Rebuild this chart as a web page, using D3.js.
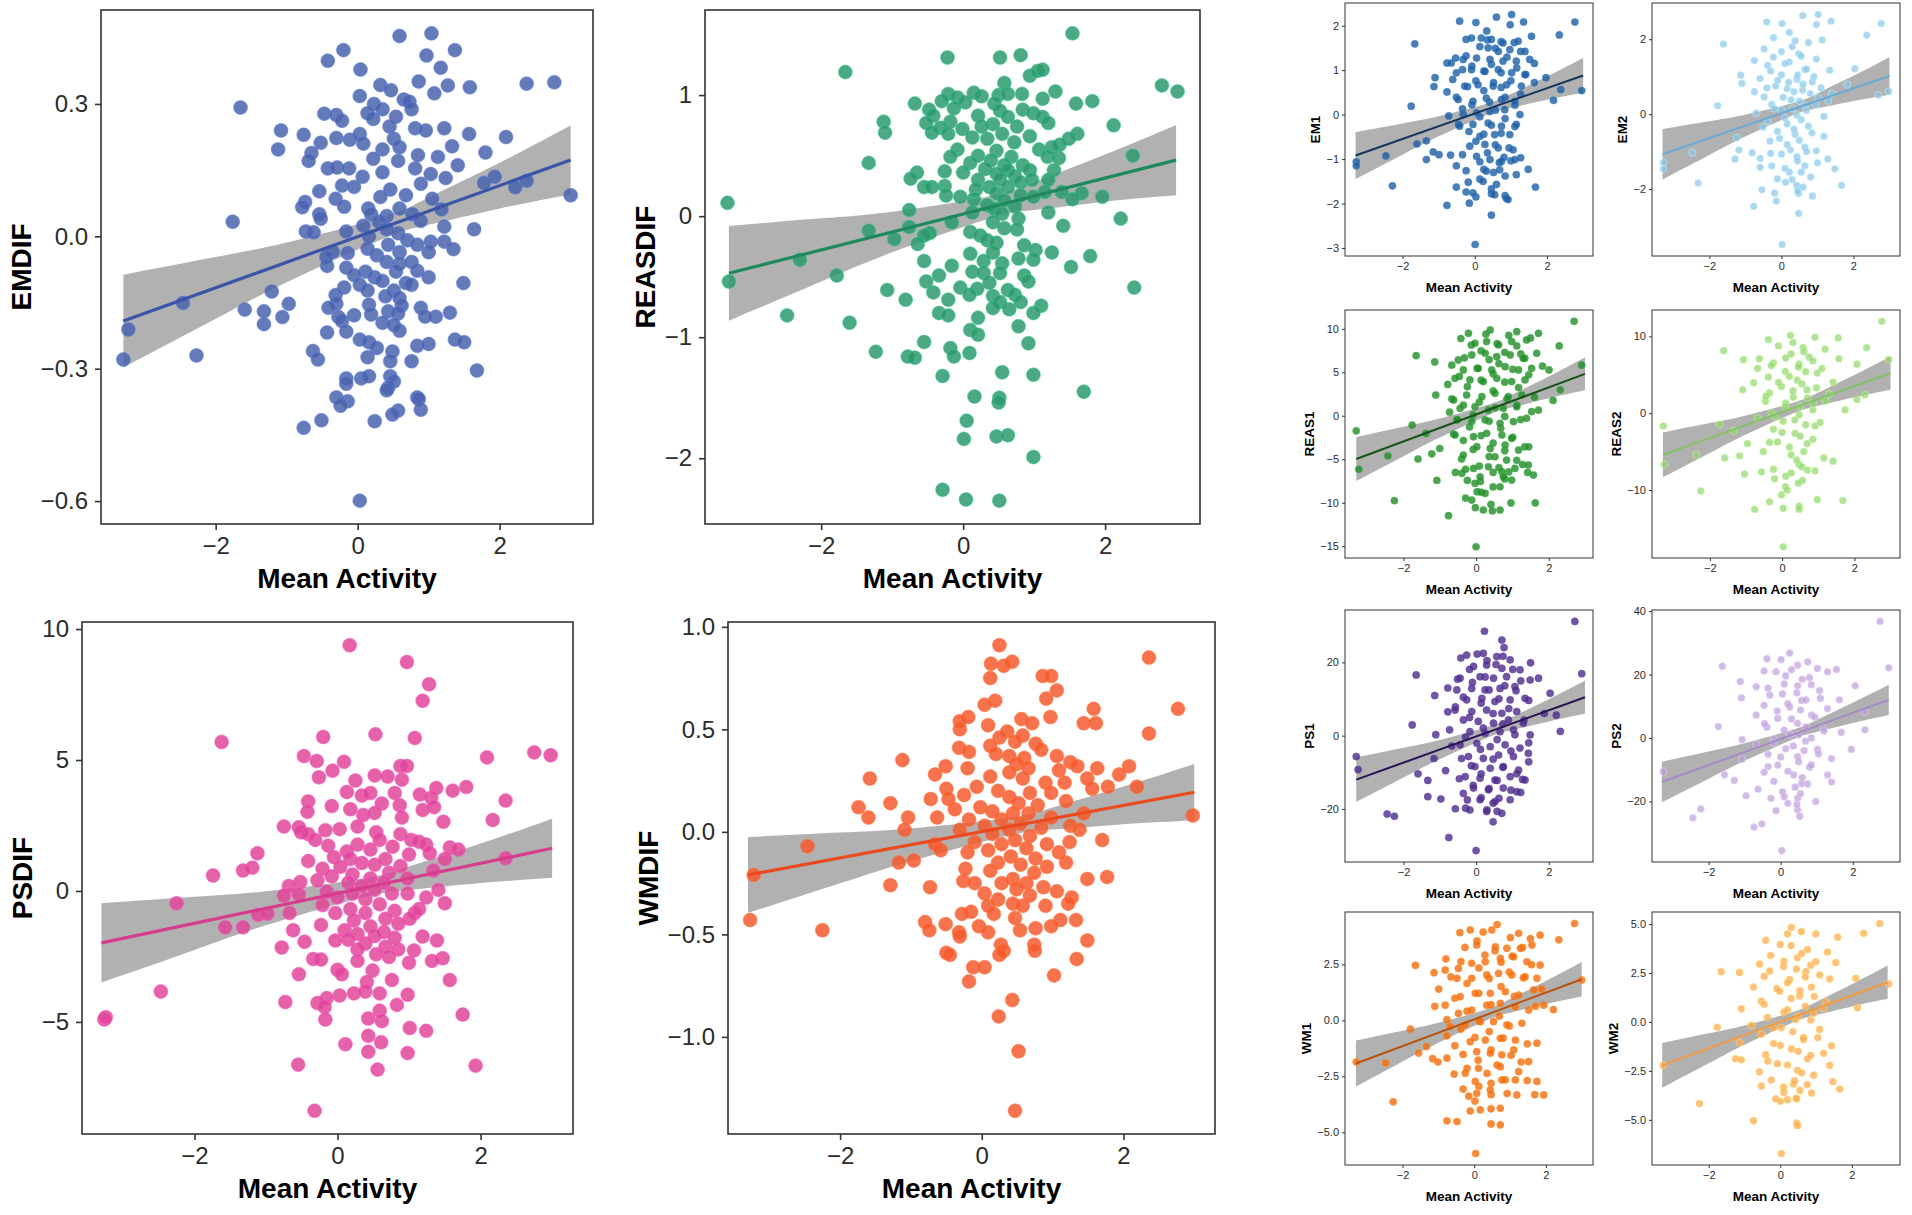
<!DOCTYPE html>
<html lang="en">
<head>
<meta charset="UTF-8">
<title>Mean Activity scatter plots</title>
<script src="https://d3js.org/d3.v7.min.js"></script>
<style>
    body { margin: 0; background: white; }
    svg { display: block; font-family: "Liberation Sans", Arial, Helvetica, sans-serif; }
</style>
</head>
<body>
<svg id="canvas" width="1912" height="1215"></svg>
<script>
    const fitX = [-3.3, -2, -1, 0.35, 1, 2, 3.0]

    // ---- big panels: [Mean Activity, score] ----
    const emdif = [[1.04,0.46],[0.59,0.454],[-0.2,0.422],[1.37,0.422],[-0.42,0.398],[0.97,0.41],[0.04,0.378],[1.17,0.382],[0.86,0.351],[2.38,0.346],[2.77,0.349],[1.58,0.338],[1.27,0.342],[0.32,0.343],[0.47,0.331],[0.03,0.318],[1.08,0.324],[0.65,0.31],[0.73,0.305],[-1.65,0.292],[0.23,0.3],[0.35,0.288],[0.14,0.279],[0.76,0.288],[-0.47,0.278],[-0.3,0.275],[-0.22,0.262],[0.22,0.266],[0.54,0.271],[0.45,0.249],[0.81,0.245],[0.96,0.24],[1.22,0.245],[-1.08,0.24],[1.57,0.232],[2.09,0.225],[-0.76,0.23],[-0.3,0.223],[-0.11,0.219],[0.03,0.232],[0.51,0.221],[-0.52,0.212],[0.08,0.21],[1.33,0.204],[-1.12,0.197],[0.59,0.202],[0.35,0.197],[1.8,0.19],[-0.65,0.189],[0.85,0.184],[1.13,0.18],[0.22,0.176],[-0.69,0.171],[0.57,0.171],[-0.42,0.154],[-0.29,0.156],[-0.12,0.154],[0.81,0.154],[1.41,0.161],[0.35,0.145],[1.03,0.141],[0.07,0.135],[1.24,0.132],[1.93,0.135],[1.78,0.121],[2.22,0.111],[2.38,0.126],[-0.22,0.115],[-0.05,0.112],[0.46,0.106],[0.89,0.119],[-0.54,0.102],[3.0,0.093],[0.68,0.093],[-0.31,0.085],[1.05,0.085],[-0.74,0.078],[0.32,0.089],[-0.78,0.066],[-0.19,0.067],[0.15,0.063],[0.59,0.063],[1.18,0.061],[-0.54,0.05],[0.19,0.05],[0.41,0.046],[0.77,0.05],[-0.52,0.04],[-1.76,0.033],[0.3,0.033],[0.89,0.035],[0.08,0.024],[1.22,0.022],[1.64,0.016],[-0.73,0.011],[-0.62,0.009],[-0.16,0.011],[0.41,0.016],[0.57,0.007],[0.16,0.0],[0.7,-0.009],[1.03,-0.012],[1.22,-0.012],[0.43,-0.019],[0.84,-0.019],[1.35,-0.029],[-0.35,-0.035],[0.14,-0.028],[0.59,-0.036],[-0.14,-0.038],[-0.44,-0.047],[1.0,-0.036],[0.27,-0.043],[0.41,-0.058],[0.59,-0.062],[0.76,-0.058],[-0.43,-0.067],[-0.16,-0.071],[0.54,-0.08],[0.84,-0.078],[0.11,-0.08],[-0.05,-0.088],[0.24,-0.093],[1.0,-0.093],[0.35,-0.101],[1.49,-0.106],[0.68,-0.106],[0.03,-0.11],[0.76,-0.11],[-0.19,-0.116],[0.51,-0.123],[-1.21,-0.125],[0.14,-0.123],[-0.31,-0.133],[0.39,-0.136],[0.59,-0.14],[-2.46,-0.151],[-0.97,-0.153],[-0.3,-0.153],[0.16,-0.155],[0.62,-0.157],[0.89,-0.162],[-1.59,-0.166],[-1.32,-0.17],[-0.41,-0.162],[0.43,-0.17],[1.1,-0.182],[1.3,-0.173],[-1.06,-0.183],[-0.27,-0.183],[-0.05,-0.179],[0.19,-0.177],[0.57,-0.175],[0.95,-0.182],[-1.32,-0.199],[0.35,-0.196],[-0.22,-0.192],[0.51,-0.201],[-3.23,-0.211],[-0.43,-0.218],[-0.16,-0.216],[0.59,-0.214],[1.37,-0.234],[1.5,-0.24],[0.03,-0.234],[0.16,-0.24],[0.84,-0.248],[1.0,-0.244],[0.27,-0.253],[-0.63,-0.26],[0.49,-0.261],[-2.27,-0.27],[0.14,-0.274],[-0.56,-0.279],[-3.3,-0.279],[0.46,-0.283],[0.76,-0.283],[1.68,-0.304],[0.46,-0.317],[-0.16,-0.322],[0.05,-0.322],[0.16,-0.317],[0.51,-0.329],[-0.16,-0.334],[0.43,-0.343],[0.41,-0.349],[0.84,-0.365],[-0.3,-0.365],[0.86,-0.369],[-0.14,-0.374],[-0.24,-0.384],[0.89,-0.393],[0.57,-0.395],[0.49,-0.404],[0.24,-0.419],[-0.51,-0.417],[-0.76,-0.434],[0.03,-0.599]]
    const emdifLine = [-0.192, 0.173]
    const emdifBand = [[-0.297,-0.087],[-0.187,-0.047],[-0.104,-0.014],[-0.006,0.044],[0.026,0.088],[0.063,0.167],[0.095,0.251]]

    const reasdif = [[1.54,1.51],[-0.22,1.31],[0.52,1.31],[0.81,1.33],[-1.66,1.19],[0.94,1.16],[1.05,1.2],[1.12,1.21],[2.8,1.08],[3.02,1.03],[0.58,1.1],[0.15,1.02],[1.3,1.03],[-0.21,1.01],[0.83,1.01],[0.26,0.99],[0.5,1.0],[0.63,1.01],[-0.08,0.98],[-0.3,0.95],[1.12,0.97],[1.82,0.95],[1.59,0.93],[-0.68,0.93],[0.03,0.94],[0.44,0.93],[-0.48,0.88],[-0.13,0.89],[0.84,0.88],[0.52,0.87],[0.99,0.85],[-0.42,0.83],[0.21,0.83],[0.63,0.82],[1.12,0.82],[-1.12,0.78],[-0.52,0.77],[-0.18,0.78],[0.42,0.76],[1.2,0.77],[2.12,0.75],[-1.1,0.69],[-0.32,0.73],[-0.01,0.72],[0.26,0.74],[0.76,0.74],[1.61,0.68],[-0.44,0.69],[-0.21,0.68],[0.55,0.68],[0.94,0.66],[0.13,0.65],[0.34,0.64],[0.72,0.61],[1.49,0.64],[1.36,0.59],[1.25,0.57],[-0.08,0.55],[1.07,0.55],[0.47,0.54],[0.21,0.5],[2.39,0.5],[-0.18,0.49],[0.68,0.49],[1.19,0.49],[1.35,0.48],[0.39,0.46],[-1.33,0.44],[0.1,0.44],[0.58,0.42],[0.84,0.42],[0.31,0.39],[0.63,0.38],[-0.26,0.37],[0.0,0.36],[1.28,0.38],[0.94,0.38],[-0.65,0.36],[0.47,0.35],[0.73,0.33],[1.2,0.3],[-0.74,0.31],[0.21,0.3],[0.52,0.3],[0.81,0.28],[0.97,0.3],[-0.26,0.25],[-0.55,0.24],[-0.44,0.24],[0.37,0.24],[0.63,0.24],[0.18,0.22],[1.15,0.2],[1.39,0.2],[1.67,0.19],[0.47,0.19],[-0.24,0.17],[-0.04,0.16],[0.81,0.17],[1.96,0.16],[1.54,0.14],[0.99,0.16],[0.15,0.14],[0.58,0.13],[-3.32,0.11],[0.34,0.09],[0.73,0.08],[0.44,0.06],[-0.76,0.05],[0.13,0.03],[1.2,0.03],[0.55,0.02],[0.78,-0.02],[2.22,-0.02],[-0.16,-0.05],[0.42,-0.05],[1.41,-0.08],[-0.76,-0.09],[0.58,-0.1],[0.76,-0.11],[-1.33,-0.12],[0.1,-0.13],[-0.47,-0.14],[-0.55,-0.16],[0.24,-0.16],[-0.97,-0.19],[0.34,-0.2],[0.47,-0.22],[-0.64,-0.23],[0.86,-0.24],[1.02,-0.28],[1.25,-0.3],[0.1,-0.31],[0.42,-0.3],[1.79,-0.33],[-2.3,-0.36],[0.78,-0.35],[0.99,-0.36],[-0.55,-0.37],[0.29,-0.37],[-0.16,-0.41],[0.55,-0.39],[1.52,-0.42],[0.13,-0.46],[0.52,-0.47],[0.86,-0.49],[-1.78,-0.49],[-0.34,-0.49],[0.29,-0.47],[0.92,-0.54],[-3.3,-0.54],[-0.52,-0.54],[0.37,-0.55],[-0.04,-0.59],[2.41,-0.59],[-1.07,-0.61],[0.2,-0.6],[0.63,-0.61],[-0.42,-0.63],[0.09,-0.65],[0.42,-0.66],[0.73,-0.65],[-0.21,-0.69],[-0.81,-0.69],[0.52,-0.71],[0.81,-0.71],[0.42,-0.76],[1.1,-0.74],[0.65,-0.77],[0.99,-0.8],[-0.34,-0.8],[-0.21,-0.82],[-2.48,-0.82],[-1.6,-0.88],[0.21,-0.84],[0.78,-0.91],[0.1,-0.94],[0.21,-0.98],[-0.55,-1.04],[0.92,-1.05],[-1.23,-1.12],[-0.18,-1.09],[0.09,-1.13],[-0.78,-1.16],[-0.68,-1.17],[-0.13,-1.16],[0.55,-1.29],[-0.29,-1.32],[0.99,-1.31],[1.7,-1.45],[0.16,-1.49],[0.51,-1.5],[0.5,-1.54],[0.05,-1.69],[0.01,-1.84],[0.47,-1.82],[0.63,-1.81],[0.99,-1.99],[-0.29,-2.26],[0.04,-2.34],[0.51,-2.35]]
    const reasdifLine = [-0.472, 0.463]
    const reasdifBand = [[-0.863,-0.081],[-0.540,-0.018],[-0.299,0.037],[-0.023,0.163],[0.051,0.281],[0.120,0.510],[0.172,0.754]]

    const psdif = [[0.17,9.38],[0.97,8.74],[1.28,7.89],[1.19,7.26],[-1.62,5.69],[-0.2,5.88],[0.53,5.98],[1.08,5.84],[-0.47,5.15],[2.09,5.1],[2.75,5.29],[2.98,5.18],[-0.29,4.96],[0.09,4.93],[-0.07,4.59],[0.88,4.77],[0.97,4.77],[-0.26,4.34],[0.25,4.22],[0.52,4.41],[0.7,4.37],[0.9,4.25],[1.38,3.93],[1.8,3.97],[1.61,3.83],[0.13,3.78],[0.34,3.64],[0.46,3.74],[0.8,3.74],[1.15,3.68],[1.31,3.56],[-0.41,3.42],[2.35,3.45],[0.62,3.34],[0.87,3.27],[-0.08,3.24],[0.18,3.12],[1.19,3.09],[1.35,3.2],[-0.42,3.02],[0.36,2.9],[0.52,2.98],[0.9,2.8],[2.17,2.71],[1.48,2.64],[-0.75,2.46],[-0.54,2.43],[0.03,2.36],[0.28,2.46],[-0.17,2.32],[-0.51,2.24],[-0.41,2.17],[0.54,2.24],[0.88,2.17],[-0.31,1.95],[0.59,1.95],[1.03,1.95],[0.28,1.77],[1.14,1.88],[1.24,1.77],[0.77,1.69],[-0.13,1.73],[1.57,1.66],[1.69,1.58],[0.13,1.51],[0.46,1.58],[-1.12,1.44],[1.0,1.39],[1.29,1.44],[-0.05,1.29],[0.18,1.22],[0.67,1.22],[2.35,1.25],[-0.41,1.14],[1.5,1.22],[0.34,1.07],[0.52,1.0],[0.88,0.95],[0.04,0.92],[-0.21,0.85],[-1.19,0.89],[-1.32,0.78],[1.34,0.78],[0.72,0.7],[0.21,0.63],[-1.74,0.59],[-0.08,0.56],[0.46,0.48],[0.98,0.48],[-0.28,0.41],[-0.52,0.34],[0.15,0.31],[0.65,0.31],[-0.68,0.19],[0.34,0.19],[0.52,0.04],[-0.15,-0.03],[1.41,0.04],[0.21,-0.1],[0.76,-0.1],[-0.54,-0.13],[0.98,-0.1],[-0.75,-0.18],[0.0,-0.25],[0.39,-0.32],[1.24,-0.25],[-2.25,-0.47],[-0.21,-0.54],[0.59,-0.51],[1.5,-0.47],[0.18,-0.69],[0.8,-0.76],[-0.67,-0.84],[-0.03,-0.84],[0.39,-0.84],[-1.11,-0.91],[-0.98,-0.87],[1.08,-0.84],[1.14,-0.69],[0.67,-1.06],[1.01,-1.06],[0.23,-1.13],[-1.57,-1.39],[-1.32,-1.39],[-0.23,-1.3],[0.46,-1.35],[0.85,-1.25],[0.1,-1.5],[0.65,-1.57],[-0.62,-1.5],[0.28,-1.64],[0.52,-1.72],[1.19,-1.74],[0.8,-1.79],[1.39,-1.89],[0.15,-1.86],[-0.03,-1.89],[-0.46,-1.94],[0.39,-2.01],[0.67,-2.13],[-0.78,-2.16],[1.07,-2.27],[0.85,-2.23],[0.28,-2.23],[0.54,-2.42],[1.47,-2.57],[1.32,-2.67],[-0.34,-2.6],[-0.23,-2.62],[1.0,-2.74],[0.28,-2.67],[0.72,-2.52],[0.0,-3.01],[0.49,-3.04],[0.06,-3.18],[-0.54,-3.18],[1.57,-3.4],[0.76,-3.4],[0.41,-3.48],[-2.47,-3.84],[0.23,-3.91],[0.39,-3.84],[0.59,-3.91],[0.03,-3.99],[0.98,-3.96],[-0.15,-4.09],[-0.73,-4.24],[-0.28,-4.28],[0.83,-4.35],[0.59,-4.57],[-0.18,-4.43],[1.75,-4.72],[0.43,-4.87],[-3.26,-4.91],[-3.24,-4.82],[0.62,-4.97],[-0.17,-4.91],[1.01,-5.23],[1.24,-5.34],[0.43,-5.53],[0.11,-5.85],[0.61,-5.78],[0.43,-6.14],[0.98,-6.19],[-0.55,-6.63],[1.93,-6.67],[0.56,-6.82],[-0.32,-8.39]]
    const psdifLine = [-1.98, 1.63]
    const psdifBand = [[-3.49,-0.47],[-2.25,-0.22],[-1.31,-0.01],[-0.25,0.47],[0.04,0.93],[0.30,1.81],[0.50,2.76]]

    const wmdif = [[0.25,0.91],[2.36,0.85],[0.43,0.83],[0.13,0.82],[0.31,0.81],[0.12,0.75],[0.86,0.76],[0.98,0.76],[1.06,0.69],[0.91,0.65],[0.19,0.64],[0.04,0.62],[2.77,0.6],[1.58,0.6],[0.97,0.56],[-0.19,0.56],[-0.31,0.54],[0.56,0.55],[0.71,0.53],[1.44,0.53],[1.61,0.53],[0.09,0.52],[-0.31,0.5],[0.36,0.49],[2.36,0.48],[0.58,0.47],[0.25,0.46],[0.47,0.44],[0.76,0.43],[0.12,0.42],[-0.32,0.41],[0.84,0.4],[-0.18,0.39],[0.2,0.38],[0.39,0.37],[1.06,0.37],[0.6,0.36],[-1.12,0.35],[1.25,0.34],[0.49,0.33],[2.08,0.32],[-0.2,0.31],[-0.51,0.32],[1.63,0.31],[1.35,0.32],[0.66,0.31],[1.09,0.3],[0.39,0.29],[-0.66,0.28],[1.94,0.28],[-1.58,0.26],[0.12,0.27],[0.58,0.26],[1.49,0.26],[0.9,0.24],[1.17,0.24],[2.19,0.22],[1.78,0.22],[-0.07,0.22],[1.56,0.21],[-0.5,0.21],[0.23,0.2],[0.68,0.19],[-0.25,0.18],[0.98,0.19],[-0.47,0.16],[0.39,0.17],[-0.72,0.16],[1.19,0.15],[-1.29,0.14],[0.52,0.14],[-1.74,0.12],[0.79,0.13],[-0.02,0.12],[-0.38,0.11],[0.15,0.1],[0.44,0.09],[0.66,0.09],[1.44,0.09],[2.98,0.08],[-1.6,0.07],[-1.04,0.07],[-0.63,0.07],[-0.18,0.06],[0.98,0.07],[0.28,0.06],[0.55,0.04],[0.04,0.03],[1.25,0.03],[0.84,0.02],[0.39,0.01],[-1.09,0.01],[-0.31,0.01],[1.38,0.01],[0.15,-0.01],[0.68,-0.02],[1.7,-0.04],[0.47,-0.04],[1.24,-0.05],[-0.66,-0.06],[-0.1,-0.05],[-2.46,-0.07],[0.28,-0.06],[0.92,-0.06],[0.63,-0.08],[-0.58,-0.09],[-0.2,-0.1],[0.09,-0.09],[1.09,-0.1],[0.41,-0.12],[0.76,-0.13],[-0.96,-0.14],[-1.17,-0.15],[1.19,-0.15],[0.23,-0.15],[0.55,-0.16],[0.92,-0.17],[-0.23,-0.18],[0.12,-0.19],[0.74,-0.2],[-3.22,-0.21],[1.77,-0.22],[0.44,-0.23],[1.49,-0.23],[-0.26,-0.24],[-0.1,-0.25],[0.63,-0.25],[0.28,-0.25],[-1.29,-0.26],[-0.73,-0.27],[0.87,-0.27],[0.49,-0.28],[1.06,-0.29],[0.04,-0.3],[0.68,-0.31],[1.27,-0.32],[0.23,-0.33],[0.44,-0.35],[0.58,-0.36],[0.9,-0.36],[1.22,-0.35],[0.09,-0.36],[-0.15,-0.39],[-0.28,-0.4],[0.17,-0.4],[0.47,-0.42],[1.33,-0.43],[1.11,-0.43],[-3.27,-0.43],[-0.8,-0.44],[-0.51,-0.45],[-0.04,-0.46],[0.76,-0.47],[0.54,-0.48],[0.98,-0.46],[-2.25,-0.48],[-0.74,-0.48],[0.09,-0.49],[-0.32,-0.49],[-0.31,-0.51],[1.49,-0.53],[0.74,-0.55],[0.27,-0.55],[0.31,-0.58],[0.75,-0.58],[-0.5,-0.59],[0.25,-0.6],[-0.45,-0.6],[1.34,-0.62],[-0.12,-0.66],[0.04,-0.66],[-0.18,-0.73],[1.02,-0.7],[0.43,-0.82],[0.24,-0.9],[0.52,-1.07],[0.47,-1.36]]
    const wmdifLine = [-0.21, 0.193]
    const wmdifBand = [[-0.395,-0.025],[-0.251,-0.003],[-0.143,0.017],[-0.020,0.068],[0.011,0.119],[0.037,0.221],[0.055,0.331]]

    const em1 = [[1.02,2.25],[0.6,2.19],[-0.42,2.1],[0.03,2.07],[1.35,2.08],[2.77,2.08],[0.98,2.02],[0.33,1.88],[-1.66,1.59],[1.57,1.76],[2.34,1.79],[-0.24,1.69],[0.35,1.68],[0.73,1.64],[1.09,1.62],[0.14,1.53],[0.57,1.49],[1.27,1.42],[-0.53,1.27],[-0.24,1.32],[-0.77,1.16],[0.89,1.29],[1.65,1.15],[-0.08,1.09],[0.46,1.13],[1.16,1.05],[-0.34,1.01],[0.25,0.98],[0.73,0.94],[1.41,0.9],[1.97,0.83],[-1.1,0.83],[-0.61,0.79],[0.03,0.76],[0.52,0.72],[1.0,0.76],[1.65,0.72],[-0.2,0.63],[-1.13,0.63],[0.73,0.61],[0.25,0.54],[2.38,0.56],[2.96,0.54],[-0.77,0.51],[1.27,0.46],[-0.51,0.39],[0.84,0.39],[2.18,0.32],[0.41,0.28],[-1.76,0.19],[-0.08,0.22],[1.11,0.21],[-0.34,0.13],[0.57,0.1],[-0.72,-0.03],[0.14,-0.05],[0.84,-0.09],[-0.45,-0.22],[0.46,-0.24],[1.11,-0.27],[-0.16,-0.38],[0.25,-0.44],[0.73,-0.42],[-1.34,-0.59],[-1.6,-0.66],[0.03,-0.6],[0.57,-0.68],[0.95,-0.75],[-2.46,-0.93],[-1.15,-0.84],[-0.99,-0.9],[-0.67,-0.91],[-0.34,-0.9],[0.35,-0.86],[0.81,-0.96],[-1.34,-1.01],[-3.28,-1.06],[-3.28,-1.15],[1.27,-0.97],[0.14,-1.06],[0.68,-1.08],[1.0,-1.04],[-0.51,-1.15],[0.25,-1.23],[1.48,-1.23],[-0.24,-1.26],[0.52,-1.3],[0.84,-1.38],[0.14,-1.45],[-0.18,-1.52],[-2.28,-1.6],[1.68,-1.63],[-0.51,-1.63],[0.46,-1.67],[-0.24,-1.74],[0.46,-1.78],[0.84,-1.82],[0.03,-1.85],[0.87,-1.88],[-0.77,-2.04],[-0.15,-1.99],[0.46,-2.26],[0.01,-2.92]]
    const em1Core = [[-0.09,1.72],[0.18,1.72],[0.46,1.69],[0.78,1.61],[1.2,1.65],[0.37,1.5],[0.65,1.42],[0.97,1.46],[1.39,1.42],[-0.65,1.16],[-0.32,1.24],[0.05,1.27],[0.42,1.24],[0.78,1.2],[1.15,1.2],[1.52,1.24],[-0.51,0.94],[-0.09,1.01],[0.28,0.97],[0.65,1.01],[1.02,0.94],[1.39,0.9],[-0.28,0.64],[0.09,0.67],[0.51,0.64],[0.88,0.67],[1.29,0.64],[-0.46,0.34],[-0.05,0.3],[0.32,0.37],[0.74,0.34],[1.11,0.3],[-0.32,0.0],[0.05,0.04],[0.42,0.07],[0.83,0.11],[1.25,0.0],[-0.42,-0.26],[-0.05,-0.22],[0.37,-0.19],[0.74,-0.26],[1.15,-0.22],[0.14,-0.49],[0.55,-0.45],[0.97,-0.45],[-0.14,-0.71],[0.28,-0.67],[0.65,-0.75],[1.06,-0.79],[0.05,-0.94],[0.42,-1.01],[0.74,-1.05],[1.11,-1.01],[0.32,-1.27],[0.69,-1.24],[1.15,-1.35],[0.23,-1.5],[0.6,-1.57],[-0.05,-1.76],[0.55,-1.8],[0.92,-1.91]]
    const em1Line = [-0.92, 0.88]
    const em1Band = [[-1.445,-0.395],[-0.900,-0.198],[-0.489,-0.037],[-0.002,0.248],[0.154,0.464],[0.332,0.856],[0.489,1.271]]

    const em2 = [[1.02,2.66],[0.59,2.63],[-0.41,2.46],[0.02,2.42],[1.38,2.48],[2.77,2.42],[0.97,2.39],[2.37,2.11],[-1.61,1.87],[0.22,2.18],[-0.22,2.04],[0.38,1.96],[1.13,1.98],[0.75,1.91],[-0.48,1.74],[0.0,1.67],[0.48,1.61],[-0.22,1.52],[-0.75,1.43],[0.97,1.47],[0.22,1.39],[-0.38,1.3],[2.04,1.21],[0.65,1.19],[1.34,1.17],[-1.13,1.04],[0.0,1.05],[-0.59,0.95],[0.43,0.93],[0.86,0.86],[-1.1,0.82],[1.83,0.79],[-0.16,0.75],[0.16,0.68],[0.59,0.64],[-0.75,0.6],[1.4,0.55],[-0.48,0.46],[2.69,0.51],[2.98,0.61],[1.02,0.44],[0.27,0.38],[-0.27,0.26],[-1.77,0.23],[0.65,0.23],[0.0,0.11],[-0.7,0.03],[0.43,-0.02],[1.18,-0.06],[-0.38,-0.19],[0.16,-0.26],[0.75,-0.32],[-0.11,-0.46],[0.38,-0.54],[-1.24,-0.63],[1.18,-0.59],[-0.32,-0.72],[0.16,-0.81],[0.65,-0.88],[-1.18,-0.96],[-0.81,-1.03],[0.97,-0.98],[-2.47,-1.03],[0.0,-1.07],[-1.29,-1.2],[-0.59,-1.18],[0.43,-1.14],[1.29,-1.2],[-3.28,-1.29],[-0.27,-1.38],[0.65,-1.38],[1.48,-1.46],[-0.59,-1.42],[-3.28,-1.46],[0.22,-1.55],[0.81,-1.68],[-0.11,-1.73],[-2.31,-1.84],[1.67,-1.9],[0.11,-1.82],[0.43,-1.9],[-0.54,-2.02],[-0.19,-2.11],[0.48,-2.12],[0.86,-2.19],[-0.77,-2.46],[-0.14,-2.32],[0.48,-2.65],[0.02,-3.48]]
    const em2Core = [[0.3,1.8],[0.55,1.55],[0.1,1.35],[0.7,1.2],[-0.3,1.15],[0.45,1.05],[0.9,1.0],[0.2,0.85],[-0.1,0.9],[0.6,0.8],[1.1,0.7],[0.35,0.6],[-0.4,0.7],[0.8,0.55],[0.05,0.45],[0.5,0.35],[1.3,0.35],[-0.2,0.15],[0.3,0.15],[0.7,0.1],[0.95,0.25],[0.1,-0.1],[0.55,-0.15],[-0.5,-0.35],[0.35,-0.4],[0.85,-0.5],[-0.05,-0.65],[0.5,-0.7],[0.25,-0.95],[0.7,-1.0],[-0.3,-1.05],[0.45,-1.25],[1.0,-1.3],[0.1,-1.45],[0.55,-1.55],[0.3,-1.75],[0.6,-1.95],[0.45,-2.05]]
    const em2Line = [-1.07, 1.02]
    const em2Band = [[-1.742,-0.398],[-1.089,-0.189],[-0.597,-0.017],[-0.019,0.301],[0.158,0.554],[0.352,1.024],[0.520,1.520]]

    const reas1 = [[2.7,10.87],[0.27,9.39],[0.9,9.24],[-0.42,8.88],[1.5,8.95],[-0.13,8.14],[0.58,8.29],[1.12,8.03],[2.29,8.03],[0.14,7.48],[0.79,7.29],[-1.65,6.92],[1.23,7.11],[-0.32,6.67],[0.36,6.45],[1.34,6.63],[-1.14,6.19],[0.63,6.0],[1.83,5.71],[-0.67,5.82],[0.03,5.45],[2.91,5.82],[1.01,5.34],[2.01,5.27],[0.47,4.83],[-0.46,4.53],[1.45,4.71],[0.14,4.09],[0.79,3.87],[-0.78,3.61],[-0.24,3.35],[1.17,3.24],[2.32,2.98],[0.47,2.87],[-1.11,2.39],[1.61,2.14],[-0.67,1.95],[0.85,1.95],[0.09,1.58],[2.12,1.77],[-0.35,1.22],[1.12,1.22],[0.52,0.92],[1.72,0.66],[-0.73,0.41],[-0.08,0.11],[0.79,-0.07],[-0.51,-0.44],[0.36,-0.63],[1.23,-0.44],[-1.76,-1.07],[-0.18,-1.29],[0.68,-1.44],[-1.38,-2.03],[-0.62,-2.1],[0.14,-2.28],[1.01,-2.47],[-3.3,-1.73],[-0.35,-2.84],[0.47,-3.13],[-1.0,-3.76],[1.34,-3.57],[1.45,-3.57],[-0.08,-3.87],[0.79,-4.01],[-1.22,-4.38],[-2.43,-4.6],[0.36,-4.68],[-1.6,-4.97],[-0.4,-4.97],[1.12,-5.12],[1.28,-5.6],[0.09,-5.78],[0.63,-5.97],[-0.29,-6.15],[1.42,-6.52],[-3.23,-6.15],[-0.57,-6.52],[0.47,-6.52],[0.9,-6.45],[0.79,-7.26],[-1.08,-7.44],[-0.24,-7.44],[0.12,-7.55],[0.47,-8.18],[0.03,-8.73],[0.14,-8.8],[-0.29,-9.47],[-2.25,-9.76],[0.96,-10.02],[1.63,-10.02],[0.41,-10.2],[-0.02,-10.57],[0.45,-10.94],[-0.76,-11.49],[0.0,-15.06]]
    const reas1Core = [[-0.21,9.49],[0.39,9.87],[1.12,9.68],[1.72,9.49],[-0.03,8.34],[0.29,8.53],[0.62,8.15],[0.98,8.53],[1.39,8.72],[-0.49,6.42],[-0.12,7.0],[0.25,7.19],[0.57,6.8],[0.94,7.0],[1.3,6.61],[1.67,7.19],[-0.35,5.27],[0.06,5.46],[0.43,5.27],[0.8,5.65],[1.17,5.27],[1.53,5.46],[-0.58,4.31],[-0.17,4.12],[0.2,3.93],[0.57,4.31],[0.98,3.93],[1.35,4.12],[-0.62,1.82],[-0.26,2.39],[0.16,2.2],[0.52,2.59],[0.89,2.2],[1.26,2.39],[-0.44,0.86],[-0.03,1.05],[0.34,0.67],[0.75,0.86],[1.12,1.05],[1.53,0.48],[-0.53,-0.48],[-0.12,-0.67],[0.25,-0.48],[0.66,-0.87],[1.03,-0.67],[1.39,-0.29],[-0.58,-2.21],[-0.07,-2.4],[0.29,-2.02],[0.71,-2.21],[0.98,-2.59],[0.02,-3.55],[0.39,-3.75],[0.8,-3.36],[1.17,-3.94],[-0.35,-4.51],[0.52,-4.71],[0.84,-5.09],[-0.07,-6.05],[0.34,-5.86],[0.71,-6.43],[1.07,-6.05],[1.44,-5.66],[-0.39,-6.62],[0.11,-7.01],[0.75,-7.01],[1.58,-6.81],[-0.03,-7.77],[0.66,-8.16],[0.98,-7.39],[0.25,-8.92],[-0.12,-9.69],[0.66,-10.84],[0.2,-10.84]]
    const reas1Line = [-4.97, 4.82]
    const reas1Band = [[-7.49,-2.45],[-4.64,-1.26],[-2.49,-0.31],[0.10,1.30],[0.97,2.45],[2.01,4.53],[2.94,6.70]]

    const reas2 = [[2.76,11.96],[0.23,10.13],[0.91,9.88],[-0.38,9.58],[1.55,9.79],[-0.1,8.75],[0.58,8.54],[-1.62,8.13],[2.34,8.54],[1.19,8.33],[0.25,7.71],[0.75,7.29],[-0.63,7.08],[1.57,7.08],[-1.07,6.96],[-0.24,6.54],[0.47,6.38],[2.07,6.38],[-0.68,5.83],[0.09,5.42],[0.97,5.21],[2.95,6.96],[-0.38,4.71],[0.42,4.29],[1.41,4.04],[-0.79,3.96],[-0.02,3.46],[0.69,3.04],[-1.09,3.04],[-0.35,2.63],[1.3,2.5],[2.29,2.38],[0.31,2.08],[2.07,1.79],[-0.46,1.54],[0.86,1.25],[0.09,0.83],[1.74,0.42],[-0.3,0.0],[0.47,-0.21],[-0.68,-0.63],[-1.73,-1.46],[0.03,-1.04],[-3.29,-1.67],[0.91,-1.67],[-0.24,-2.08],[-1.34,-2.29],[0.36,-2.63],[-0.96,-3.96],[-0.13,-3.75],[0.69,-3.96],[-0.52,-5.0],[-2.38,-5.42],[-1.18,-5.54],[0.25,-5.42],[1.15,-5.83],[-1.59,-5.83],[1.41,-6.25],[-3.26,-6.67],[0.47,-6.67],[-0.24,-7.29],[0.91,-7.5],[-0.57,-7.63],[0.25,-7.79],[-1.04,-7.92],[-0.21,-8.54],[0.56,-8.75],[0.09,-9.58],[0.14,-10.0],[-0.02,-10.63],[-2.25,-10.13],[0.97,-11.25],[1.68,-11.38],[-0.35,-11.54],[0.47,-12.08],[0.03,-12.38],[-0.76,-12.5],[0.47,-12.5],[0.03,-17.38]]
    const reas2Core = [[0.3,9.2],[0.6,8.0],[0.1,7.2],[0.85,6.8],[-0.3,6.2],[0.45,6.0],[0.65,5.4],[1.1,5.8],[0.2,4.8],[-0.1,4.0],[0.55,3.8],[0.95,3.3],[0.3,2.9],[-0.45,2.2],[0.7,2.0],[1.2,1.6],[0.1,1.3],[0.5,0.9],[0.85,0.4],[-0.2,-0.4],[0.35,-0.9],[0.65,-1.5],[1.05,-1.2],[0.0,-2.5],[0.5,-3.0],[0.85,-3.4],[-0.35,-3.8],[0.2,-4.4],[0.6,-5.0],[0.4,-6.1],[0.55,-7.0],[0.7,-7.4],[0.1,-8.2],[0.45,-9.1]]
    const reas2Line = [-5.42, 5.21]
    const reas2Band = [[-8.32,-2.52],[-5.17,-1.29],[-2.79,-0.29],[0.05,1.43],[0.98,2.68],[2.07,4.97],[3.05,7.37]]

    const ps1 = [[2.72,31.19],[0.23,28.52],[0.71,26.11],[0.77,24.06],[0.03,22.28],[-0.42,21.21],[0.74,21.66],[0.3,20.5],[1.5,19.88],[0.55,19.43],[1.01,18.09],[-0.18,18.09],[-1.65,16.58],[2.91,16.93],[1.72,15.69],[-0.51,15.42],[0.25,16.04],[1.23,14.97],[-0.1,14.53],[0.79,13.64],[-0.78,13.01],[0.36,12.48],[1.1,12.3],[-1.14,10.96],[-0.35,10.52],[2.04,11.59],[0.63,10.07],[1.45,9.63],[0.14,8.91],[-0.57,7.84],[0.9,7.4],[-0.78,6.51],[1.88,6.06],[0.47,6.06],[-0.18,4.99],[1.32,4.28],[2.21,5.61],[-1.76,2.94],[0.74,3.21],[-0.73,1.6],[0.2,2.05],[2.32,1.16],[-1.11,0.27],[1.07,0.27],[-0.29,-0.36],[0.58,-1.07],[1.45,-1.96],[-0.67,-2.85],[0.12,-3.74],[0.96,-4.19],[-3.3,-5.7],[-1.16,-6.24],[-0.4,-6.24],[0.47,-6.42],[1.45,-7.13],[-3.25,-9.27],[-0.13,-8.2],[0.74,-8.65],[-0.84,-9.54],[-1.6,-10.43],[0.14,-10.43],[1.12,-10.43],[-0.46,-11.76],[0.58,-12.21],[-1.33,-12.21],[1.28,-11.94],[-0.08,-13.55],[0.36,-14.44],[0.96,-14.88],[-0.35,-15.78],[1.23,-15.51],[-1.33,-16.67],[0.14,-16.93],[0.63,-17.11],[-0.97,-17.29],[-0.24,-17.56],[0.47,-18.45],[-0.57,-19.96],[-0.29,-19.79],[0.3,-20.23],[0.58,-20.68],[-2.45,-21.39],[-2.25,-22.01],[0.47,-23.53],[-0.75,-27.81],[0.0,-31.37]]
    const ps1Core = [[-0.26,22.0],[0.2,22.5],[0.57,21.6],[0.94,20.7],[1.21,18.0],[-0.07,18.9],[0.29,19.3],[0.71,18.4],[-0.44,15.7],[0.11,16.1],[0.48,15.7],[0.84,16.1],[1.49,15.2],[-0.53,12.5],[-0.12,12.9],[0.25,12.5],[0.66,12.9],[1.07,13.4],[-0.26,9.8],[0.16,10.2],[0.52,9.3],[0.94,9.8],[1.35,10.2],[-0.58,7.0],[-0.12,6.6],[0.29,7.0],[0.71,6.1],[1.12,6.6],[-0.35,4.3],[0.06,3.9],[0.48,3.4],[0.89,4.3],[1.3,3.4],[-0.17,1.1],[0.25,0.65],[0.66,1.1],[1.03,1.6],[1.49,0.2],[-0.44,-2.5],[0.02,-2.1],[0.39,-3.0],[0.8,-2.5],[1.21,-3.4],[-0.21,-5.7],[0.2,-6.2],[0.62,-5.3],[1.03,-5.7],[1.44,-4.8],[-0.03,-8.45],[0.39,-8.9],[0.75,-8.45],[1.17,-9.4],[-0.3,-11.2],[0.11,-11.6],[0.52,-12.1],[0.94,-11.2],[1.35,-12.1],[-0.07,-14.3],[0.34,-14.8],[0.75,-14.3],[1.12,-15.3],[0.11,-17.5],[0.52,-18.0],[0.94,-17.5],[-0.17,-20.3],[0.29,-20.7],[0.71,-21.2]]
    const ps1Line = [-12.0, 10.5]
    const ps1Band = [[-18.09,-5.91],[-11.43,-3.29],[-6.41,-1.17],[-0.42,2.48],[1.57,5.15],[3.89,9.97],[5.97,15.03]]

    const ps2 = [[2.76,36.73],[0.25,26.75],[-0.38,25.0],[0.01,24.69],[0.75,23.97],[-1.62,22.63],[3.0,22.12],[0.47,22.94],[1.02,21.91],[1.55,21.6],[-0.46,21.09],[-0.13,20.88],[1.3,20.88],[0.14,19.55],[0.8,19.03],[-1.12,17.8],[-0.68,16.15],[-0.35,15.74],[0.47,16.46],[2.07,16.46],[1.08,14.92],[0.05,13.89],[-1.09,12.65],[1.63,12.04],[0.58,11.83],[-0.46,10.29],[0.25,9.77],[1.3,9.26],[-0.68,7.2],[0.86,7.2],[-0.08,6.17],[2.34,8.23],[0.47,4.63],[-1.73,3.6],[-0.38,3.4],[1.19,3.09],[1.68,1.75],[2.34,2.57],[0.25,1.03],[-0.19,-0.31],[-1.07,-0.51],[0.69,-1.03],[-0.68,-2.06],[1.96,-3.6],[0.14,-3.4],[1.02,-3.6],[-0.35,-5.14],[0.47,-5.86],[-1.07,-6.69],[1.41,-6.48],[-3.26,-10.6],[-0.08,-8.54],[0.8,-9.26],[-1.56,-11.63],[-0.46,-10.8],[0.36,-11.63],[1.3,-11.63],[-1.29,-13.37],[-0.19,-13.68],[0.58,-14.4],[1.41,-13.89],[-0.63,-16.15],[0.05,-16.98],[-0.96,-18.21],[-0.27,-19.03],[0.47,-19.03],[0.97,-20.06],[0.2,-20.58],[-2.22,-22.33],[0.47,-22.63],[-0.13,-22.94],[-2.44,-25.21],[0.53,-24.69],[-0.52,-27.06],[-0.74,-28.09],[0.03,-35.49]]
    const ps2Core = [[0.3,21.5],[0.6,18.5],[0.1,17.0],[0.85,16.8],[-0.3,13.5],[0.45,14.2],[0.7,12.0],[1.1,12.5],[0.2,10.8],[-0.1,8.5],[0.55,8.8],[0.95,6.5],[0.3,6.0],[-0.45,4.5],[0.7,3.5],[1.2,2.2],[0.1,2.5],[0.5,1.0],[0.85,0.0],[-0.2,-1.5],[0.35,-2.5],[0.65,-4.0],[1.05,-5.0],[0.0,-6.0],[0.5,-7.5],[0.85,-8.5],[-0.35,-9.0],[0.2,-10.5],[0.6,-12.5],[0.4,-15.5],[0.55,-17.5],[0.75,-14.5],[0.1,-18.5],[0.45,-21.0]]
    const ps2Line = [-13.9, 12.0]
    const ps2Band = [[-20.28,-7.52],[-12.83,-4.29],[-7.19,-1.69],[-0.41,2.63],[1.90,5.66],[4.70,11.08],[7.25,16.75]]

    const wm1 = [[2.8,4.33],[0.64,4.28],[-0.4,3.92],[0.25,3.95],[1.01,3.7],[1.57,3.65],[2.36,3.6],[0.08,3.55],[-0.26,3.26],[1.35,3.26],[0.58,3.11],[0.3,2.92],[1.06,2.87],[-0.79,2.75],[-0.37,2.63],[0.75,2.6],[-1.64,2.46],[1.6,2.49],[0.13,2.34],[-1.12,2.13],[0.98,2.16],[-0.65,1.94],[0.42,1.87],[1.37,1.9],[3.0,1.8],[-0.2,1.65],[0.75,1.51],[-0.99,1.4],[1.88,1.4],[0.13,1.21],[-0.54,0.99],[1.12,1.07],[-1.1,0.63],[0.47,0.7],[1.71,0.63],[2.21,0.48],[-0.2,0.41],[0.7,0.19],[-0.76,0.04],[0.13,-0.03],[-1.78,-0.39],[0.98,-0.25],[-0.37,-0.39],[0.42,-0.5],[-0.76,-0.69],[0.02,-0.76],[0.81,-0.79],[1.48,-1.05],[-1.33,-1.17],[-0.54,-1.13],[-1.55,-1.46],[0.47,-1.32],[-0.31,-1.52],[1.03,-1.56],[-1.16,-1.71],[-1.01,-1.86],[-3.29,-1.86],[-2.47,-1.9],[0.11,-1.78],[1.31,-1.86],[0.64,-2.0],[-0.2,-2.14],[0.36,-2.37],[-0.56,-2.4],[0.87,-2.66],[1.48,-2.69],[0.13,-2.95],[0.47,-2.81],[-0.31,-3.07],[0.92,-3.27],[1.69,-3.32],[-0.15,-3.39],[0.47,-3.32],[0.02,-3.61],[-2.26,-3.64],[0.47,-3.95],[-0.11,-4.05],[-0.76,-4.49],[0.47,-4.63],[0.04,-5.95]]
    const wm1Core = [[-0.11,4.04],[0.49,4.04],[1.24,3.89],[1.84,3.81],[0.07,3.37],[0.59,3.29],[0.91,3.22],[1.29,3.22],[1.61,3.37],[-0.81,2.25],[-0.44,2.32],[-0.07,2.55],[0.31,2.62],[0.73,2.77],[1.1,2.84],[1.47,2.62],[1.84,2.47],[-0.48,1.88],[-0.07,1.88],[0.35,2.03],[0.68,2.1],[1.05,2.03],[1.42,1.95],[1.75,1.88],[-0.39,1.06],[0.03,1.21],[0.45,1.21],[0.87,1.28],[1.24,1.13],[1.66,1.36],[-0.81,0.68],[-0.44,0.31],[-0.07,0.46],[0.35,0.68],[0.73,0.76],[1.15,0.61],[1.52,0.46],[1.94,0.68],[-0.67,-0.28],[-0.25,-0.2],[0.17,-0.06],[0.54,-0.06],[0.91,-0.2],[1.33,-0.13],[-0.11,-0.95],[0.31,-0.88],[0.73,-0.8],[1.15,-0.88],[1.75,-1.02],[-0.76,-1.69],[0.07,-1.4],[0.45,-1.47],[0.77,-1.54],[1.1,-1.32],[1.52,-1.84],[-0.25,-2.36],[0.12,-2.14],[0.73,-2.07],[1.24,-2.29],[0.03,-2.73],[0.77,-2.66],[1.15,-2.66],[1.75,-2.73],[0.07,-3.26],[0.45,-3.11],[1.19,-3.33],[1.94,-3.33],[0.17,-4.0],[0.73,-3.93],[-0.48,-4.52],[0.73,-4.67]]
    const wm1Line = [-1.93, 1.84]
    const wm1Band = [[-2.96,-0.90],[-1.84,-0.46],[-1.00,-0.11],[0.01,0.50],[0.34,0.95],[0.73,1.76],[1.07,2.61]]

    const wm2 = [[2.78,5.03],[0.31,4.83],[0.2,4.5],[0.59,4.62],[0.99,4.5],[2.33,4.53],[-0.41,4.17],[1.6,4.33],[0.0,3.95],[0.76,3.7],[1.32,3.57],[-0.27,3.4],[0.48,3.28],[0.99,3.07],[-0.58,2.95],[0.09,2.83],[1.55,3.03],[-1.65,2.57],[-1.14,2.53],[0.71,2.57],[-0.45,2.33],[0.26,2.17],[1.38,2.2],[2.11,2.23],[-0.75,1.78],[0.87,1.78],[-0.02,1.57],[3.03,1.95],[0.54,1.33],[-0.53,1.07],[1.27,1.03],[2.16,0.73],[-1.09,0.67],[0.2,0.62],[0.93,0.45],[-0.36,0.23],[0.43,0.12],[-0.81,-0.17],[-1.76,-0.27],[0.03,-0.3],[1.1,-0.38],[-0.53,-0.63],[0.65,-0.8],[-1.14,-1.05],[-0.19,-1.1],[1.43,-1.22],[0.31,-1.38],[1.21,-1.6],[-0.41,-1.67],[-1.25,-1.88],[-1.09,-1.93],[0.76,-1.88],[-3.27,-2.22],[-0.08,-2.13],[1.38,-2.22],[0.48,-2.47],[-0.58,-2.55],[0.93,-2.72],[-0.25,-2.97],[1.47,-3.05],[0.37,-3.17],[-0.53,-3.27],[0.87,-3.63],[1.66,-3.43],[0.09,-3.33],[-0.13,-3.93],[0.0,-4.05],[0.2,-3.97],[0.45,-3.93],[-2.26,-4.17],[-0.75,-5.05],[0.46,-5.17],[0.48,-5.3],[0.03,-6.72]]
    const wm2Core = [[0.3,3.9],[0.6,3.5],[0.1,3.1],[0.85,2.9],[-0.3,2.6],[0.45,2.7],[0.7,2.3],[1.1,2.4],[0.2,2.0],[-0.1,1.7],[0.55,1.6],[0.95,1.3],[0.3,1.2],[-0.45,0.9],[0.7,0.8],[1.2,0.7],[0.1,0.5],[0.5,0.3],[0.85,0.1],[-0.2,-0.3],[0.35,-0.5],[0.65,-0.9],[1.05,-0.8],[0.0,-1.2],[0.5,-1.5],[0.85,-1.7],[-0.35,-2.0],[0.2,-2.2],[0.6,-2.6],[0.4,-3.0],[0.55,-3.5],[0.75,-3.2],[0.1,-3.6],[0.45,-3.9]]
    const wm2Line = [-2.22, 2.03]
    const wm2Band = [[-3.36,-1.08],[-2.11,-0.58],[-1.16,-0.18],[-0.03,0.51],[0.35,1.02],[0.79,1.93],[1.18,2.88]]

    const xTicks = [-2, 0, 2]

    let svg = d3.select('#canvas')

    const big = {r: 7, tickFont: 24, titleFont: 28, tickLen: 6, tickPad: 7, lineW: 3.2, frameW: 1.6, xTitle: 64, yGap: 10, opacity: 0.85}
    const small = {r: 3.6, tickFont: 11, titleFont: 13.5, tickLen: 3, tickPad: 3, lineW: 2, frameW: 1, xTitle: 36, yGap: 6, opacity: 0.8}

    // ggplot style 5% padding of the data range
    function pad(ext) {
        let d = (ext[1] - ext[0]) * 0.05
        return [ext[0] - d, ext[1] + d]
    }

    function drawPanel(p) {
        let s = p.size
        let [L, T, R, B] = p.box
        let g = svg.append('g')
        let x = d3.scaleLinear().domain(pad(d3.extent(p.data, d => d[0]))).range([L, R])
        let y = d3.scaleLinear().domain(pad(d3.extent(p.data, d => d[1]))).range([B, T])

        let area = d3.area()
            .x((d, i) => x(fitX[i]))
            .y0(d => y(d[0]))
            .y1(d => y(d[1]))
            .curve(d3.curveNatural)
        g.append('path')
            .datum(p.band)
            .attr('d', area)
            .attr('fill', '#9b9b9b')
            .attr('fill-opacity', 0.78)

        g.selectAll('circle')
            .data(p.data)
            .enter()
            .append('circle')
            .attr('cx', d => x(d[0]))
            .attr('cy', d => y(d[1]))
            .attr('r', s.r)
            .attr('fill', p.fill)
            .attr('fill-opacity', p.opacity || s.opacity)
            .attr('stroke', d3.color(p.fill).brighter(0.8))
            .attr('stroke-opacity', 0.5)
            .attr('stroke-width', 1)

        g.append('line')
            .attr('x1', x(fitX[0])).attr('y1', y(p.line[0]))
            .attr('x2', x(fitX[fitX.length - 1])).attr('y2', y(p.line[1]))
            .attr('stroke', p.lineColor)
            .attr('stroke-width', s.lineW)

        g.append('rect')
            .attr('x', L).attr('y', T)
            .attr('width', R - L).attr('height', B - T)
            .attr('fill', 'none')
            .attr('stroke', '#333')
            .attr('stroke-width', s.frameW)

        let gx = g.append('g')
            .attr('transform', `translate(0,${B})`)
            .call(d3.axisBottom(x).tickValues(xTicks).tickFormat(d3.format('d'))
                .tickSize(s.tickLen).tickPadding(s.tickPad))
        let gy = g.append('g')
            .attr('transform', `translate(${L},0)`)
            .call(d3.axisLeft(y).tickValues(p.ticks).tickFormat(d3.format(p.fmt))
                .tickSize(s.tickLen).tickPadding(s.tickPad))

        for (let ax of [gx, gy]) {
            ax.select('.domain').remove()
            ax.selectAll('line').attr('stroke', '#333').attr('stroke-width', s.frameW)
            ax.selectAll('text')
                .attr('font-size', s.tickFont)
                .attr('font-family', '"Liberation Sans", Arial, sans-serif')
                .attr('fill', '#2b2b2b')
        }

        g.append('text')
            .attr('x', (L + R) / 2)
            .attr('y', B + s.xTitle)
            .attr('text-anchor', 'middle')
            .attr('font-size', s.titleFont)
            .attr('font-weight', 'bold')
            .text('Mean Activity')

        // the y axis group is translated by L, so its bbox is relative to L
        let bb = gy.node().getBBox()
        g.append('text')
            .attr('transform', `translate(${L + bb.x - s.yGap},${(T + B) / 2}) rotate(-90)`)
            .attr('text-anchor', 'middle')
            .attr('font-size', s.titleFont)
            .attr('font-weight', 'bold')
            .text(p.label)
    }

    const col1 = [1345, 1593], col2 = [1652, 1900]
    const rows = [[3, 256], [310, 558], [610, 862], [912, 1165]]

    let panels = [
        {label: 'EMDIF', data: emdif, line: emdifLine, band: emdifBand, ticks: [-0.6, -0.3, 0, 0.3], fmt: '.1f',
            fill: '#4a63ad', lineColor: '#3a55a8', box: [101, 10, 593, 524], size: big},
        {label: 'REASDIF', data: reasdif, line: reasdifLine, band: reasdifBand, ticks: [-2, -1, 0, 1], fmt: 'd',
            fill: '#2b9a6d', lineColor: '#1e8a5c', box: [705, 10, 1200, 524], size: big},
        {label: 'PSDIF', data: psdif, line: psdifLine, band: psdifBand, ticks: [-5, 0, 5, 10], fmt: 'd',
            fill: '#e0479a', lineColor: '#d63b8c', box: [82, 622, 573, 1134], size: big},
        {label: 'WMDIF', data: wmdif, line: wmdifLine, band: wmdifBand, ticks: [-1, -0.5, 0, 0.5, 1], fmt: '.1f',
            fill: '#f65a2e', lineColor: '#ea4a1e', box: [728, 622, 1215, 1134], size: big},

        {label: 'EM1', data: em1.concat(em1Core), line: em1Line, band: em1Band, ticks: [-3, -2, -1, 0, 1, 2], fmt: 'd',
            fill: '#1f5e9f', lineColor: '#15355c', box: [col1[0], rows[0][0], col1[1], rows[0][1]], size: small},
        {label: 'EM2', data: em2.concat(em2Core), line: em2Line, band: em2Band, ticks: [-2, 0, 2], fmt: 'd',
            fill: '#8ec3e8', lineColor: '#6aa9d6', box: [col2[0], rows[0][0], col2[1], rows[0][1]], size: small, opacity: 0.7},
        {label: 'REAS1', data: reas1.concat(reas1Core), line: reas1Line, band: reas1Band, ticks: [-15, -10, -5, 0, 5, 10], fmt: 'd',
            fill: '#248a2a', lineColor: '#155417', box: [col1[0], rows[1][0], col1[1], rows[1][1]], size: small},
        {label: 'REAS2', data: reas2.concat(reas2Core), line: reas2Line, band: reas2Band, ticks: [-10, 0, 10], fmt: 'd',
            fill: '#93d470', lineColor: '#82c462', box: [col2[0], rows[1][0], col2[1], rows[1][1]], size: small, opacity: 0.7},
        {label: 'PS1', data: ps1.concat(ps1Core), line: ps1Line, band: ps1Band, ticks: [-20, 0, 20], fmt: 'd',
            fill: '#4b2c86', lineColor: '#2a1256', box: [col1[0], rows[2][0], col1[1], rows[2][1]], size: small},
        {label: 'PS2', data: ps2.concat(ps2Core), line: ps2Line, band: ps2Band, ticks: [-20, 0, 20, 40], fmt: 'd',
            fill: '#bba0d9', lineColor: '#a688ca', box: [col2[0], rows[2][0], col2[1], rows[2][1]], size: small, opacity: 0.7},
        {label: 'WM1', data: wm1.concat(wm1Core), line: wm1Line, band: wm1Band, ticks: [-5, -2.5, 0, 2.5], fmt: '.1f',
            fill: '#f26b10', lineColor: '#b9520e', box: [col1[0], rows[3][0], col1[1], rows[3][1]], size: small},
        {label: 'WM2', data: wm2.concat(wm2Core), line: wm2Line, band: wm2Band, ticks: [-5, -2.5, 0, 2.5, 5], fmt: '.1f',
            fill: '#fcab55', lineColor: '#f39a40', box: [col2[0], rows[3][0], col2[1], rows[3][1]], size: small, opacity: 0.75}
    ]

    panels.forEach(drawPanel)
</script>
</body>
</html>
